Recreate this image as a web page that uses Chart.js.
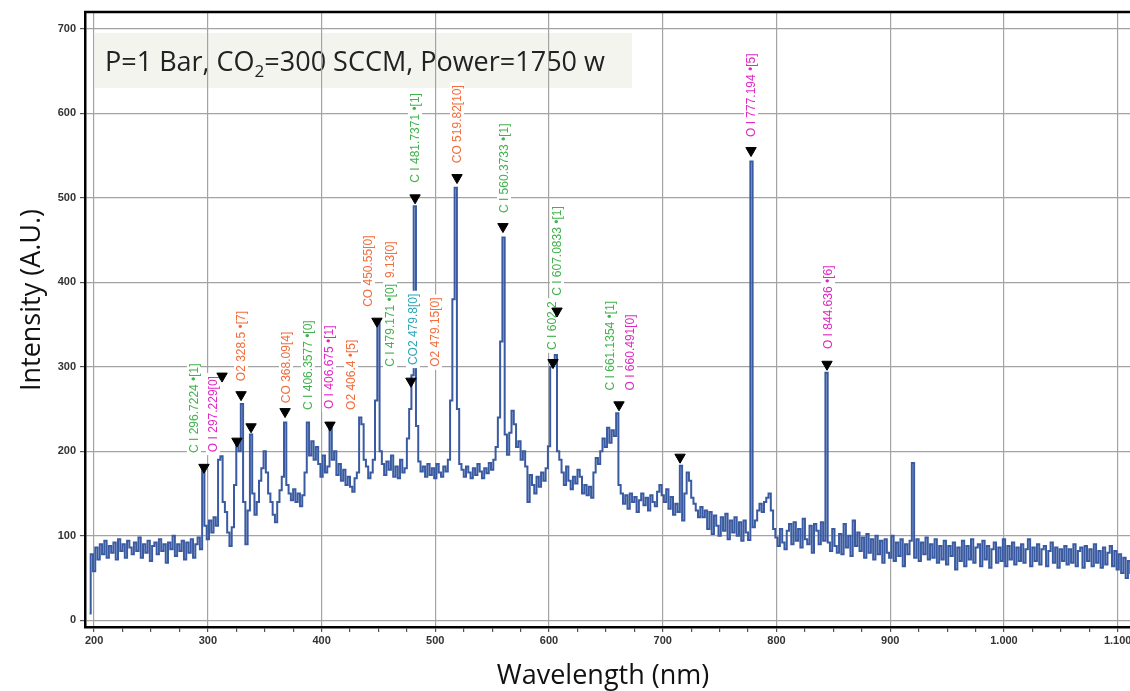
<!DOCTYPE html>
<html>
<head>
<meta charset="utf-8">
<title>OES spectrum</title>
<script src="https://cdn.jsdelivr.net/npm/chart.js@4.4.0/dist/chart.umd.min.js"></script>
<style>
  html, body { margin: 0; padding: 0; background: #fff; overflow: hidden; }
  #wrap { width: 1130px; height: 691px; overflow: hidden; }
</style>
</head>
<body>
<div id="wrap"><canvas id="spec" width="1160" height="691"></canvas></div>
<script>
// spectrum, one reading every 2 nm from 196 nm
const wlStart = 196;
const wlStep = 2;
const intensity = [
  8, 78, 58, 86, 72, 90, 78, 94, 74, 88,            // 196
  80, 92, 72, 96, 82, 90, 74, 94, 86, 78,           // 216
  92, 82, 98, 74, 90, 80, 94, 70, 88, 92,           // 236
  78, 96, 82, 90, 68, 92, 84, 100, 76, 90,          // 256
  82, 94, 72, 92, 80, 96, 74, 90, 98, 84,           // 276
  180, 112, 96, 118, 104, 122, 112, 190, 194, 140,  // 296
  128, 104, 88, 110, 160, 212, 200, 256, 140, 90,   // 316
  130, 220, 150, 125, 140, 165, 180, 200, 175, 150, // 336
  140, 125, 116, 140, 154, 170, 234, 160, 150, 142, // 356
  155, 140, 150, 135, 148, 175, 234, 195, 212, 190, // 376
  205, 185, 170, 195, 175, 182, 228, 190, 200, 172, // 396
  185, 165, 178, 160, 170, 158, 152, 168, 175, 240, // 416
  232, 190, 182, 168, 175, 190, 260, 352, 200, 185, // 436
  172, 188, 178, 195, 170, 182, 168, 190, 175, 180, // 456
  215, 250, 290, 490, 230, 188, 176, 182, 170, 185, // 476
  172, 180, 168, 185, 175, 170, 182, 176, 190, 260, // 496
  380, 512, 250, 185, 178, 170, 182, 175, 168, 180, // 516
  172, 185, 176, 168, 180, 174, 186, 178, 190, 205, // 536
  240, 330, 453, 220, 196, 222, 248, 232, 205, 212, // 556
  190, 200, 182, 140, 172, 160, 150, 170, 158, 175, // 576
  165, 180, 206, 300, 308, 314, 200, 190, 175, 160, // 596
  182, 165, 155, 170, 162, 178, 170, 150, 160, 148, // 616
  158, 145, 175, 192, 185, 200, 215, 205, 228, 210, // 636
  225, 218, 245, 160, 150, 138, 148, 132, 150, 140, // 656
  146, 128, 142, 150, 136, 145, 130, 148, 140, 135, // 676
  152, 160, 148, 140, 155, 132, 146, 125, 138, 128, // 696
  183, 118, 150, 175, 165, 145, 138, 130, 122, 134, // 716
  122, 130, 108, 128, 102, 124, 112, 100, 122, 106, // 736
  126, 96, 118, 104, 122, 100, 116, 94, 118, 104,   // 756
  95, 543, 110, 118, 130, 138, 128, 140, 145, 150,  // 776
  130, 108, 98, 88, 108, 92, 84, 106, 114, 90,      // 796
  116, 94, 108, 86, 120, 96, 90, 112, 80, 114,      // 816
  106, 90, 116, 94, 293, 92, 82, 108, 88, 80,       // 836
  102, 78, 114, 86, 100, 76, 118, 88, 104, 82,      // 856
  98, 74, 102, 80, 96, 72, 100, 78, 94, 68,         // 876
  96, 80, 74, 100, 70, 92, 76, 96, 64, 90,          // 896
  78, 94, 186, 74, 96, 70, 92, 78, 98, 72,          // 916
  90, 74, 96, 68, 88, 72, 94, 66, 88, 76,           // 936
  92, 60, 86, 70, 94, 64, 88, 72, 96, 68,           // 956
  86, 90, 64, 94, 72, 88, 62, 84, 92, 68,           // 976
  86, 70, 96, 64, 88, 72, 92, 66, 86, 70,           // 996
  90, 68, 84, 96, 64, 86, 70, 90, 66, 84,           // 1016
  88, 64, 82, 92, 68, 86, 62, 84, 70, 88,           // 1036
  66, 84, 68, 90, 64, 82, 86, 62, 88, 70,           // 1056
  84, 64, 90, 68, 82, 62, 86, 66, 80, 88,           // 1076
  64, 82, 60, 78, 56, 74, 50, 70, 56, 66            // 1096
];

// peak-finder markers
const peakNm  = [296.6, 312.5, 325.6, 329.2, 338.0, 367.9, 407.4, 448.7, 478.6, 482.2, 519.1, 559.5, 603.5, 607.0, 661.5, 715.2, 777.6, 844.4];
const peakVal = [181, 289, 212, 267, 229, 247, 231, 354, 283, 500, 524, 466, 305, 366, 255, 193, 556, 303];

// line identifications
const lineText = [
  'C I 296.7224 •[1]', 'O I 297.229[0]', 'O2 328.5 •[7]', 'CO 368.09[4]',
  'C I 406.3577 •[0]', 'O I 406.675 •[1]', 'O2 406.4 •[5]', 'CO 450.55[0]',
  'C I 479.171 •[0]', '9.13[0]', 'CO2 479.8[0]', 'O2 479.15[0]',
  'C I 481.7371 •[1]', 'CO 519.82[10]', 'C I 560.3733 •[1]', 'C I 602.2',
  'C I 607.0833 •[1]', 'C I 661.1354 •[1]', 'O I 660.491[0]',
  'O I 777.194 •[5]', 'O I 844.636 •[6]'
];
const lineSpecies = ['C I', 'O I', 'O2', 'CO', 'C I', 'O I', 'O2', 'CO', 'C I', 'CO', 'CO2', 'O2',
                     'C I', 'CO', 'C I', 'C I', 'C I', 'C I', 'O I', 'O I', 'O I'];
const lineNm   = [287.8, 304.5, 329.2, 368.7, 388.1, 406.5, 425.9, 440.8, 460.2, 460.2, 480.4, 499.7,
                  482.2, 519.1, 560.4, 602.6, 607.0, 653.6, 671.2, 777.6, 845.3];
const lineBase = [198, 199, 283, 257, 249, 250, 249, 371, 300, 405, 302, 300,
                  518, 541, 482, 320, 384, 272, 272, 572, 321];

const xTicks = [200, 300, 400, 500, 600, 700, 800, 900, 1000, 1100];
const yTicks = [0, 100, 200, 300, 400, 500, 600, 700];

const speciesColor = {
  'C I': '#41b24d',
  'O I': '#e027c3',
  'CO': '#f26c3c',
  'O2': '#f26c3c',
  'CO2': '#2ea7b9'
};

const spectrum = intensity.map((v, i) => ({ x: wlStart + i * wlStep, y: v }));
const markers = peakNm.map((nm, i) => ({ x: nm, y: peakVal[i] }));

function thousands(v) {
  return String(v).replace(/\B(?=(\d{3})+(?!\d))/g, '.');
}

// rotated line labels on white tabs
function drawLineLabels(chart) {
  const ctx = chart.ctx;
  const xs = chart.scales.x, ys = chart.scales.y;
  ctx.save();
  ctx.font = '12px "Liberation Sans"';
  ctx.textBaseline = 'middle';
  lineText.forEach((t, i) => {
    const px = xs.getPixelForValue(lineNm[i]);
    const py = ys.getPixelForValue(lineBase[i]);
    const w = ctx.measureText(t).width;
    ctx.save();
    ctx.translate(px, py);
    ctx.rotate(-Math.PI / 2);
    ctx.fillStyle = '#fff';
    ctx.fillRect(-3, -7, w + 6, 14);
    ctx.fillStyle = speciesColor[lineSpecies[i]];
    ctx.fillText(t, 0, 0.5);
    ctx.restore();
  });
  ctx.restore();
}

const decorations = {
  id: 'decorations',
  beforeDraw(chart) {
    const ctx = chart.ctx;
    ctx.save();
    ctx.fillStyle = '#f4f4ef';
    ctx.fillRect(95, 33, 537, 55);
    ctx.fillStyle = '#222';
    ctx.textBaseline = 'alphabetic';
    ctx.font = '27px "Open Sans"';
    let x = 105;
    const y = 71;
    const a = 'P=1 Bar, CO';
    ctx.fillText(a, x, y);
    x += ctx.measureText(a).width;
    ctx.font = '17px "Open Sans"';
    ctx.fillText('2', x, y + 6);
    x += ctx.measureText('2').width;
    ctx.font = '27px "Open Sans"';
    ctx.fillText('=300 SCCM, Power=1750 w', x, y);
    ctx.restore();
  },
  // labels go over the spectrum but under the peak markers
  beforeDatasetDraw(chart, args) {
    if (args.index === 0) drawLineLabels(chart);
  },
  afterDraw(chart) {
    const ctx = chart.ctx;
    const a = chart.chartArea;
    ctx.save();
    ctx.strokeStyle = '#000';
    ctx.lineWidth = 2.5;
    ctx.beginPath();
    ctx.moveTo(a.left - 1, a.top);
    ctx.lineTo(a.right, a.top);
    ctx.stroke();

    ctx.fillStyle = '#111';
    ctx.font = '27px "Open Sans"';
    ctx.textAlign = 'center';
    ctx.textBaseline = 'middle';
    ctx.fillText('Wavelength (nm)', 603, 676);
    ctx.translate(32, 300);
    ctx.rotate(-Math.PI / 2);
    ctx.fillText('Intensity (A.U.)', 0, 0);
    ctx.restore();
  }
};

new Chart(document.getElementById('spec'), {
  type: 'line',
  data: {
    datasets: [
      {
        type: 'scatter',
        data: markers,
        pointStyle: 'triangle',
        rotation: 180,
        pointRadius: 6,
        backgroundColor: '#000',
        borderColor: '#000',
        borderWidth: 1,
        showLine: false,
        order: 0
      },
      {
        data: spectrum,
        borderColor: '#3a5ba2',
        borderWidth: 2,
        pointRadius: 0,
        stepped: 'middle',
        fill: false,
        order: 1
      }
    ]
  },
  options: {
    responsive: false,
    animation: false,
    devicePixelRatio: 1,
    layout: { padding: { top: 12, right: 15, bottom: 0, left: 0 } },
    plugins: {
      legend: { display: false },
      tooltip: { enabled: false }
    },
    scales: {
      x: {
        type: 'linear',
        min: 192,
        max: 1124,
        afterBuildTicks(scale) {
          const t = [];
          xTicks.forEach((v, i) => {
            t.push({ value: v });
            if (i < xTicks.length - 1) {
              t.push({ value: v + 25 }, { value: v + 50 }, { value: v + 75 });
            }
          });
          scale.ticks = t;
        },
        afterFit(scale) { scale.height = 64; },
        grid: {
          color: c => (c.tick && c.tick.value % 100 === 0) ? '#a3a3a3' : 'rgba(0,0,0,0)',
          tickColor: '#555',
          lineWidth: 1.2,
          tickLength: 5
        },
        border: { color: '#000', width: 2.5 },
        ticks: {
          autoSkip: false,
          maxRotation: 0,
          padding: 2,
          color: '#333',
          font: { family: 'Liberation Sans', size: 11, weight: 'bold' },
          callback: v => (v % 100 === 0 ? thousands(v) : '')
        }
      },
      y: {
        min: -8,
        max: 720,
        afterBuildTicks(scale) { scale.ticks = yTicks.map(v => ({ value: v })); },
        afterFit(scale) { scale.width = 85; },
        grid: {
          color: '#a3a3a3',
          tickColor: '#555',
          lineWidth: 1.2,
          tickLength: 5
        },
        border: { color: '#000', width: 2.5 },
        ticks: {
          padding: 4,
          color: '#333',
          font: { family: 'Liberation Sans', size: 11, weight: 'bold' }
        }
      }
    }
  },
  plugins: [decorations]
});
</script>
</body>
</html>
